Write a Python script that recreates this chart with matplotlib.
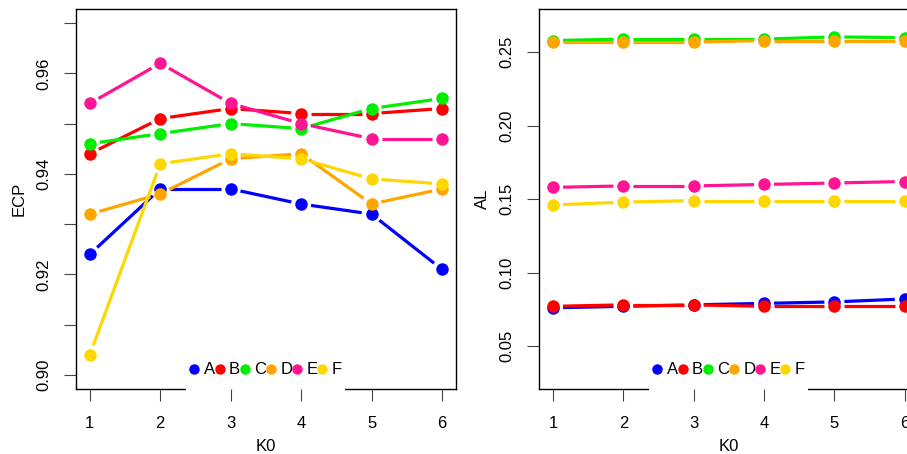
import numpy as np
import matplotlib
matplotlib.use("Agg")
import matplotlib.pyplot as plt
from matplotlib.lines import Line2D
from matplotlib.patches import Rectangle

plt.rcParams['font.family'] = ['Liberation Sans', 'DejaVu Sans']

k0 = [1, 2, 3, 4, 5, 6]
names = ['A', 'B', 'C', 'D', 'E', 'F']
colors = ['#0000ff', '#ff0000', '#00ee00', '#ffa500', '#ff1493', '#ffd700']

ecp_a = [0.924, 0.937, 0.937, 0.934, 0.932, 0.921]
ecp_b = [0.944, 0.951, 0.953, 0.952, 0.952, 0.953]
ecp_c = [0.946, 0.948, 0.950, 0.949, 0.953, 0.955]
ecp_d = [0.932, 0.936, 0.943, 0.944, 0.934, 0.937]
ecp_e = [0.954, 0.962, 0.954, 0.950, 0.947, 0.947]
ecp_f = [0.904, 0.942, 0.944, 0.943, 0.939, 0.938]

al_a = [0.076, 0.077, 0.078, 0.079, 0.080, 0.082]
al_b = [0.077, 0.078, 0.078, 0.077, 0.077, 0.077]
al_c = [0.258, 0.259, 0.259, 0.259, 0.2605, 0.260]
al_d = [0.257, 0.257, 0.257, 0.258, 0.258, 0.258]
al_e = [0.158, 0.159, 0.159, 0.160, 0.161, 0.162]
al_f = [0.146, 0.148, 0.149, 0.149, 0.149, 0.149]


def type_b(ax, x, y, color, gap=10):
    # R type="b": points joined by lines that stop short of each point
    pts = ax.transData.transform(np.column_stack([x, y]))
    inv = ax.transData.inverted()
    for p, q in zip(pts[:-1], pts[1:]):
        d = q - p
        n = np.hypot(*d)
        if n <= 2 * gap:
            continue
        u = d / n
        seg = inv.transform(np.array([p + u * gap, q - u * gap]))
        ax.plot(seg[:, 0], seg[:, 1], color=color, lw=2.3, solid_capstyle='butt')
    ax.plot(x, y, 'o', color=color, ms=9, mew=0)


def panel(ax, series, ylim, yticks, ylabels, ylab):
    ax.set_xlim(0.8, 6.2)
    ax.set_ylim(*ylim)
    for vals, col in zip(series, colors):
        type_b(ax, k0, vals, col)
    ax.set_xticks(k0)
    ax.set_yticks(yticks)
    ax.set_yticklabels(ylabels, rotation=90, va='center')
    ax.tick_params(direction='out', length=8.5, width=0.8, color='#444444',
                   labelsize=12)
    ax.tick_params(axis='x', pad=11)
    ax.tick_params(axis='y', pad=9)
    ax.xaxis.set_zorder(4.5)
    for s in ax.spines.values():
        s.set_linewidth(1.0)
    ax.set_xlabel('K0', fontsize=12, labelpad=6)
    ax.set_ylabel(ylab, fontsize=12, labelpad=7)
    handles = [Line2D([], [], ls='none', marker='o', color=c, ms=6.5) for c in colors]
    leg = ax.legend(handles, names, loc='center', bbox_to_anchor=(0.5, 0.05),
                    ncol=6, fontsize=12, handlelength=0.55, handletextpad=0.3,
                    columnspacing=0.0, borderpad=0.2, frameon=False)
    return leg


fig = plt.figure(figsize=(9.07, 4.54), dpi=100)
ax1 = fig.add_axes([0.0835, 0.1432, 0.4193, 0.8370])
ax2 = fig.add_axes([0.5943, 0.1432, 0.4187, 0.8370])

ecp_ticks = [0.90, 0.91, 0.92, 0.93, 0.94, 0.95, 0.96, 0.97]
ecp_labels = ['0.90', '', '0.92', '', '0.94', '', '0.96', '']
leg1 = panel(ax1, [ecp_a, ecp_b, ecp_c, ecp_d, ecp_e, ecp_f], (0.8972, 0.9728),
             ecp_ticks, ecp_labels, 'ECP')

al_ticks = [0.05, 0.10, 0.15, 0.20, 0.25]
al_labels = ['0.05', '0.10', '0.15', '0.20', '0.25']
leg2 = panel(ax2, [al_a, al_b, al_c, al_d, al_e, al_f], (0.0207, 0.2795),
             al_ticks, al_labels, 'AL')

# white legend background that blanks the bottom frame line, as in R
fig.canvas.draw()
for ax, leg in [(ax1, leg1), (ax2, leg2)]:
    bb = leg.get_window_extent().transformed(ax.transAxes.inverted())
    ax.add_patch(Rectangle((bb.x0, -0.01), bb.width, bb.y1 + 0.01,
                           transform=ax.transAxes, facecolor='white',
                           edgecolor='none', clip_on=False, zorder=4))

fig.savefig('out.png', dpi=100)
